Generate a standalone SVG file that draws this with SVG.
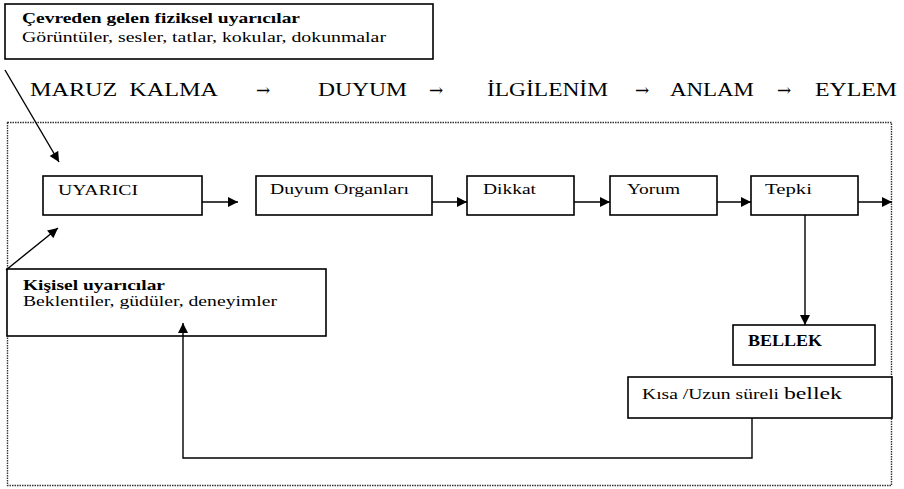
<svg xmlns="http://www.w3.org/2000/svg" width="904" height="489" viewBox="0 0 904 489">
  <style>
    text { font-family: "Liberation Serif", "Times New Roman", serif; fill: #000; }
    .box { fill: #fff; stroke: #000; stroke-width: 1.6; }
    .lbl { font-size: 14px; }
    .hd { font-size: 19px; }
    .arr { font-family: "DejaVu Serif", serif; font-size: 17px; }
    .bold { font-weight: bold; font-size: 15px; }
    .sub { font-size: 15px; }
    .line { fill: none; stroke: #000; stroke-width: 1.4; }
    .frame { fill: none; stroke: #333; stroke-width: 1.4; stroke-dasharray: 1.5 1; }
  </style>
  <defs>
    <marker id="ah" viewBox="0 0 10 10" refX="10" refY="5" markerWidth="11" markerHeight="10" markerUnits="userSpaceOnUse" orient="auto">
      <path d="M0,0 L10,5 L0,10 z" fill="#000"/>
    </marker>
  </defs>

  <rect width="904" height="489" fill="#fff"/>

  <!-- dotted enclosure -->
  <rect class="frame" x="7.5" y="122.5" width="884" height="363"/>

  <!-- process stages heading -->
  <g id="stages">
    <text x="30" y="96" class="hd" textLength="188" lengthAdjust="spacingAndGlyphs" xml:space="preserve">MARUZ  KALMA</text>
    <text x="256" y="96" class="arr">→</text>
    <text x="318" y="96" class="hd" textLength="89" lengthAdjust="spacingAndGlyphs">DUYUM</text>
    <text x="429" y="96" class="arr">→</text>
    <text x="487" y="96" class="hd" textLength="121" lengthAdjust="spacingAndGlyphs">İLGİLENİM</text>
    <text x="635" y="96" class="arr">→</text>
    <text x="670" y="96" class="hd" textLength="84" lengthAdjust="spacingAndGlyphs">ANLAM</text>
    <text x="777" y="96" class="arr">→</text>
    <text x="815" y="96" class="hd" textLength="82" lengthAdjust="spacingAndGlyphs">EYLEM</text>
  </g>

  <g id="cevre">
    <rect class="box" x="5" y="4" width="428" height="55"/>
    <text x="22" y="23" class="bold" textLength="278" lengthAdjust="spacingAndGlyphs">Çevreden gelen fiziksel uyarıcılar</text>
    <text x="22" y="42" class="sub" textLength="364" lengthAdjust="spacingAndGlyphs">Görüntüler, sesler, tatlar, kokular, dokunmalar</text>
  </g>

  <g id="uyarici">
    <rect class="box" x="43" y="176" width="159" height="39"/>
    <text x="58" y="195" class="lbl" textLength="80" lengthAdjust="spacingAndGlyphs">UYARICI</text>
  </g>

  <g id="duyum">
    <rect class="box" x="256" y="176" width="176" height="39"/>
    <text x="270" y="194" class="lbl" textLength="139" lengthAdjust="spacingAndGlyphs">Duyum Organları</text>
  </g>

  <g id="dikkat">
    <rect class="box" x="467" y="176" width="107" height="39"/>
    <text x="483" y="194" class="lbl" textLength="53" lengthAdjust="spacingAndGlyphs">Dikkat</text>
  </g>

  <g id="yorum">
    <rect class="box" x="610" y="176" width="107" height="39"/>
    <text x="627" y="194" class="lbl" textLength="53" lengthAdjust="spacingAndGlyphs">Yorum</text>
  </g>

  <g id="tepki">
    <rect class="box" x="751" y="176" width="107" height="39"/>
    <text x="765" y="194" class="lbl" textLength="47" lengthAdjust="spacingAndGlyphs">Tepki</text>
  </g>

  <g id="bellek">
    <rect class="box" x="733" y="325" width="142" height="40"/>
    <text x="748" y="346" font-size="16" font-weight="bold" textLength="74" lengthAdjust="spacingAndGlyphs">BELLEK</text>
  </g>

  <g id="kisa-uzun">
    <rect class="box" x="628" y="377" width="264" height="41"/>
    <text x="642" y="399" class="lbl" textLength="200" lengthAdjust="spacingAndGlyphs">Kısa /Uzun süreli <tspan font-size="17">bellek</tspan></text>
  </g>

  <g id="kisisel">
    <rect class="box" x="7" y="269" width="319" height="67"/>
    <text x="23" y="290" class="bold" textLength="142" lengthAdjust="spacingAndGlyphs">Kişisel uyarıcılar</text>
    <text x="23" y="306" class="sub" textLength="254" lengthAdjust="spacingAndGlyphs">Beklentiler, güdüler, deneyimler</text>
  </g>

  <!-- connectors, drawn over the boxes so the feedback arrow shows inside its target -->
  <g id="connectors">
    <line class="line" x1="5" y1="70" x2="59" y2="162" marker-end="url(#ah)"/>
    <line class="line" x1="6" y1="270" x2="58" y2="228" marker-end="url(#ah)"/>
    <line class="line" x1="202" y1="202" x2="238" y2="202" marker-end="url(#ah)"/>
    <line class="line" x1="432" y1="202" x2="467" y2="202" marker-end="url(#ah)"/>
    <line class="line" x1="574" y1="202" x2="610" y2="202" marker-end="url(#ah)"/>
    <line class="line" x1="717" y1="202" x2="751" y2="202" marker-end="url(#ah)"/>
    <line class="line" x1="858" y1="202" x2="892" y2="202" marker-end="url(#ah)"/>
    <line class="line" x1="805" y1="215" x2="805" y2="325" marker-end="url(#ah)"/>
    <polyline class="line" points="752,418 752,458 183,458 183,323" marker-end="url(#ah)"/>
  </g>
</svg>
